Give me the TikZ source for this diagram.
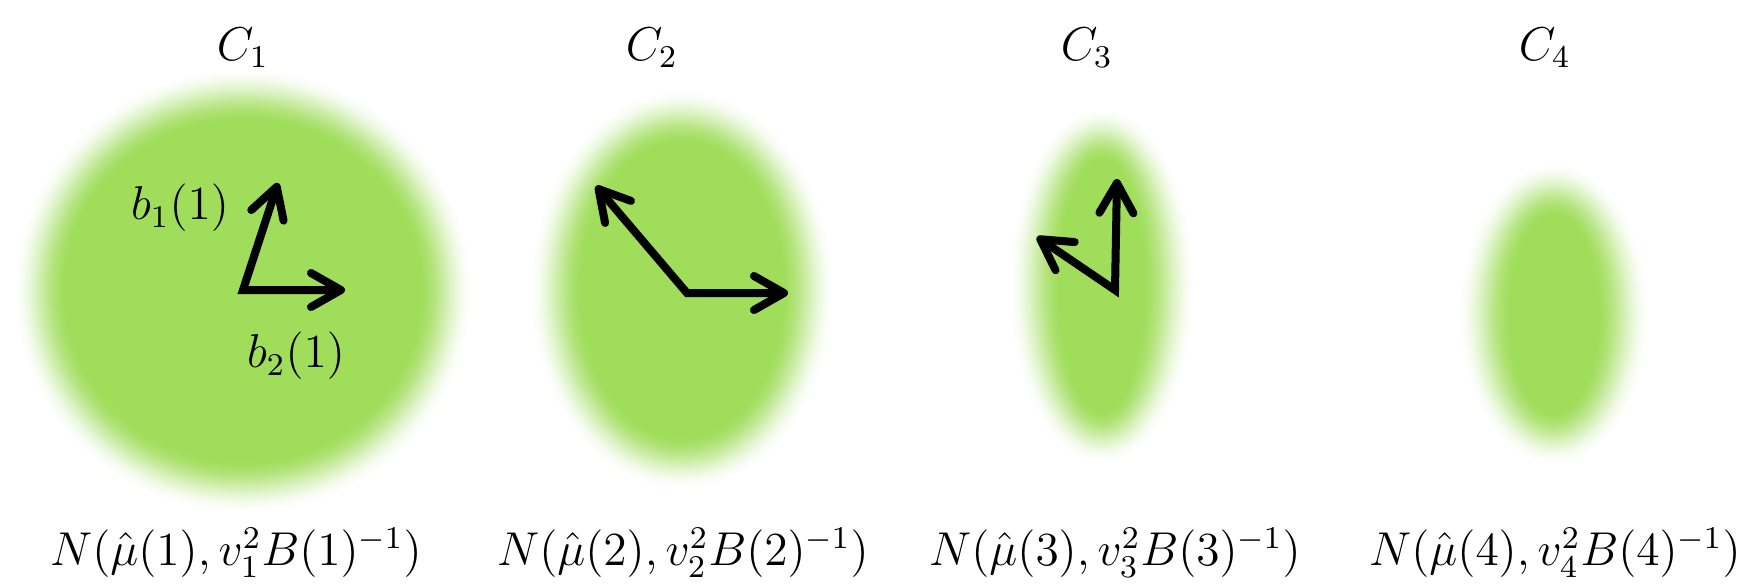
\documentclass[tikz,border=0pt]{standalone}
\usetikzlibrary{arrows.meta}
\definecolor{blobgreen}{RGB}{160,221,90}
\newcommand\softblob[4]{%
  \foreach \k in {0,...,56}{%
    \pgfmathsetmacro\tt{\k/56}%
    \pgfmathsetmacro\pp{100*\tt*\tt*(3-2*\tt)}%
    \fill[blobgreen!\pp!white] (#1,#2) ellipse [x radius={#3+28-\k}, y radius={#4+28-\k}];
  }}
\tikzset{
  lbl/.style={font=\large, scale=1.125, inner sep=0pt},
  vec/.style={line width=0.08cm,
    {Straight Barb[length=0.3cm,width=0.34cm,round]}-{Straight Barb[length=0.3cm,width=0.34cm,round]}}
}
\begin{document}
\begin{tikzpicture}[x=0.01cm,y=-0.01cm]
\useasboundingbox (0,0) rectangle (1757,587);
% blobs
\softblob{243}{291}{203}{196}
\softblob{682}{290}{126}{173}
\softblob{1102}{286}{67}{151}
\softblob{1554}{314}{69}{124}
% top labels
\node[lbl] (c1) at (243,48) {$C_1$};
\node[lbl] (c2) at (652,48) {$C_2$};
\node[lbl] (c3) at (1087,48) {$C_3$};
\node[lbl] (c4) at (1545,48) {$C_4$};
% bottom labels
\node[lbl] (n1) at (236,553) {$N(\hat{\mu}(1),v_1^2B(1)^{-1})$};
\node[lbl] (n2) at (683,553) {$N(\hat{\mu}(2),v_2^2B(2)^{-1})$};
\node[lbl] (n3) at (1115,553) {$N(\hat{\mu}(3),v_3^2B(3)^{-1})$};
\node[lbl] (n4) at (1555,553) {$N(\hat{\mu}(4),v_4^2B(4)^{-1})$};
% vectors blob 1
\coordinate (o1) at (243,290);
\coordinate (a1) at (278,183);
\coordinate (b1) at (345,290);
\draw[vec] (a1) -- (o1) -- (b1);
\node[lbl] (lb1) at (180,208) {$b_1(1)$};
\node[lbl] (lb2) at (296,356) {$b_2(1)$};
% vectors blob 2
\coordinate (o2) at (687,293);
\coordinate (a2) at (596,186);
\coordinate (b2) at (788,293);
\draw[vec] (a2) -- (o2) -- (b2);
% vectors blob 3
\coordinate (o3) at (1115,290);
\coordinate (a3) at (1117,179);
\coordinate (b3) at (1037,237);
\draw[vec] (a3) -- (o3) -- (b3);
\end{tikzpicture}
\end{document}
